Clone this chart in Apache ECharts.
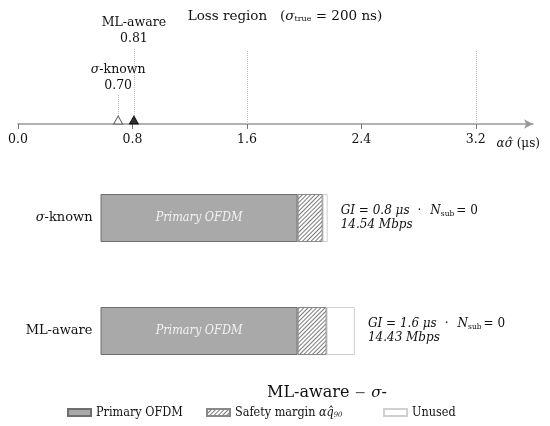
<!DOCTYPE html>
<html>
<head>
<meta charset="utf-8">
<script src="https://cdn.jsdelivr.net/npm/echarts@6/dist/echarts.min.js"></script>
<style>
  html, body { margin: 0; padding: 0; background: #fff; }
  #chart { width: 550px; height: 426px; }
</style>
</head>
<body>
<div id="chart"></div>
<script>
// 上半部分：损失区域轴上的两个标记
var marker_names = ['σ-known', 'ML-aware'];
var marker_values = [0.70, 0.81];
var marker_heights = [0.28, 0.73];   // 虚线顶端（y 轴 0..1）
var ref_lines = [1.6, 3.2];

// 下半部分：每个方案的符号组成（μs）
var schemes = ['σ-known', 'ML-aware'];
var primary_ofdm = [5.5, 5.5];
var safety_margin = [0.70, 0.81];
var unused_gi = [0.14, 0.79];
var gi_values = ['0.8', '1.6'];
var n_sub = [0, 0];
var rates = ['14.54', '14.43'];

var SERIF = 'DejaVu Serif';
var COND = '"DejaVu Serif Condensed", "DejaVu Serif"';
var chart = echarts.init(document.getElementById('chart'));

function sigmaLabel(name) {
    return name.indexOf('σ') === 0 ? '{i|σ}' + name.slice(1) : name;
}

// 斜线填充
var hatch = {
    symbol: 'rect',
    symbolSize: 1,
    color: '#7a7a7a',
    backgroundColor: '#fff',
    dashArrayX: [1, 0],
    dashArrayY: [1, 2],
    rotation: -Math.PI / 4
};

var option = {
    animation: false,
    backgroundColor: '#fff',
    textStyle: { fontFamily: SERIF, color: '#111' },
    title: {
        text: 'Loss region   ({i|σ}{sub|true}{n| = 200 ns)}',
        left: 280,
        textAlign: 'center',
        top: 4,
        textStyle: {
            fontFamily: SERIF, fontSize: 13.5, fontWeight: 'normal', color: '#111',
            rich: {
                i: { fontFamily: SERIF, fontStyle: 'italic', fontSize: 13.5 },
                sub: { fontFamily: SERIF, fontSize: 8, verticalAlign: 'bottom', padding: [6, 0, 0, 0] },
                n: { fontFamily: SERIF, fontSize: 13.5 }
            }
        }
    },
    grid: [
        { left: 18, right: 17, top: 20, height: 104 },
        { left: 100.5, width: 430, top: 161.5, height: 226 }
    ],
    xAxis: [
        {
            gridIndex: 0,
            type: 'value',
            min: 0,
            max: 3.6,
            interval: 0.8,
            name: '{i|ασ̂} (μs)',
            nameLocation: 'end',
            nameGap: 7,
            nameTextStyle: {
                align: 'right', verticalAlign: 'top', padding: [14, 0, 0, 0],
                fontFamily: SERIF, fontSize: 12, color: '#111',
                rich: { i: { fontFamily: SERIF, fontStyle: 'italic', fontSize: 12 } }
            },
            axisLine: {
                show: true,
                symbol: ['none', 'arrow'],
                symbolSize: [7, 9],
                lineStyle: { color: '#999', width: 1.5 }
            },
            axisTick: { show: true, length: 5, lineStyle: { color: '#777' } },
            axisLabel: {
                fontFamily: SERIF, fontSize: 12.5, color: '#111', margin: 9,
                showMaxLabel: false,
                formatter: function (v) { return v.toFixed(1); }
            },
            splitLine: { show: false }
        },
        {
            gridIndex: 1,
            type: 'value',
            min: 0,
            max: 12,
            show: false
        }
    ],
    yAxis: [
        { gridIndex: 0, type: 'value', min: 0, max: 1, show: false },
        {
            gridIndex: 1,
            type: 'category',
            inverse: true,
            data: schemes,
            axisLine: { show: false },
            axisTick: { show: false },
            axisLabel: {
                margin: 8, fontFamily: SERIF, fontSize: 13, color: '#111',
                formatter: sigmaLabel,
                rich: { i: { fontFamily: SERIF, fontStyle: 'italic', fontSize: 13 } }
            }
        }
    ],
    legend: [
        { data: ['Primary OFDM'], left: 67 },
        { data: ['Safety margin'], left: 206 },
        { data: ['Unused'], left: 383 }
    ].map(function (l) {
        l.top = 406;
        l.padding = 0;
        l.itemWidth = 23;
        l.itemHeight = 7;
        l.itemGap = 6;
        l.icon = 'rect';
        l.selectedMode = false;
        l.textStyle = {
            fontFamily: COND, fontSize: 12.5, color: '#111',
            rich: {
                i: { fontFamily: COND, fontStyle: 'italic', fontSize: 12.5 },
                sub: { fontFamily: COND, fontStyle: 'italic', fontSize: 7.5, verticalAlign: 'bottom', padding: [5, 0, 0, 0] }
            }
        };
        l.formatter = function (name) {
            return name === 'Safety margin' ? 'Safety margin {i|αq̂}{sub|90}' : name;
        };
        return l;
    }),
    graphic: [
        {
            type: 'text',
            x: 327,
            y: 385,
            style: {
                text: 'ML-aware {m|−} {i|σ}-',
                textAlign: 'center',
                fontFamily: SERIF,
                fontSize: 16,
                fill: '#111',
                rich: {
                    m: { fontFamily: SERIF, fontSize: 14, fill: '#555' },
                    i: { fontFamily: SERIF, fontStyle: 'italic', fontSize: 15, fill: '#111' }
                }
            }
        }
    ],
    series: []
};

// 参考虚线 1.6 / 3.2
option.series.push({
    type: 'line',
    xAxisIndex: 0,
    yAxisIndex: 0,
    data: [],
    silent: true,
    markLine: {
        symbol: 'none',
        silent: true,
        label: { show: false },
        lineStyle: { color: '#bbb', type: 'dotted', width: 1 },
        data: ref_lines.map(function (v) {
            return [{ coord: [v, 0] }, { coord: [v, 0.71] }];
        })
    }
});

// 标记：虚线 + 文字 + 三角
marker_names.forEach(function (name, i) {
    option.series.push({
        type: 'scatter',
        xAxisIndex: 0,
        yAxisIndex: 0,
        symbol: 'triangle',
        symbolSize: [9, 8],
        symbolOffset: [0, -4],
        itemStyle: i === 0
            ? { color: '#fff', borderColor: '#444', borderWidth: 1 }
            : { color: '#000', borderColor: '#000', borderWidth: 1 },
        z: 5,
        data: [[marker_values[i], 0]],
        markLine: {
            symbol: 'none',
            silent: true,
            lineStyle: { color: '#bbb', type: 'dotted', width: 1 },
            label: {
                show: true,
                position: 'end',
                distance: 1,
                fontFamily: SERIF,
                fontSize: 12.5,
                color: '#111',
                lineHeight: 16,
                align: 'center',
                formatter: sigmaLabel(name) + '\n' + marker_values[i].toFixed(2),
                rich: { i: { fontFamily: SERIF, fontStyle: 'italic', fontSize: 12.5, lineHeight: 16 } }
            },
            data: [[{ coord: [marker_values[i], 0] }, { coord: [marker_values[i], marker_heights[i]] }]]
        }
    });
});

// 堆叠条形
option.series.push({
    name: 'Primary OFDM',
    type: 'bar',
    xAxisIndex: 1,
    yAxisIndex: 1,
    stack: 'sym',
    barWidth: 48,
    itemStyle: { color: '#a9a9a9', borderColor: '#6e6e6e', borderWidth: 1 },
    label: {
        show: true,
        position: 'inside',
        formatter: 'Primary OFDM',
        fontFamily: COND,
        fontStyle: 'italic',
        fontSize: 12.5,
        color: '#f2f2f2'
    },
    data: primary_ofdm
});
option.series.push({
    name: 'Safety margin',
    type: 'bar',
    xAxisIndex: 1,
    yAxisIndex: 1,
    stack: 'sym',
    itemStyle: {
        color: '#ffffff',
        borderColor: '#888',
        borderWidth: 1,
        decal: hatch
    },
    data: safety_margin
});
option.series.push({
    name: 'Unused',
    type: 'bar',
    xAxisIndex: 1,
    yAxisIndex: 1,
    stack: 'sym',
    itemStyle: { color: '#fff', borderColor: '#d0d0d0', borderWidth: 1 },
    label: {
        show: true,
        position: 'right',
        distance: 13,
        fontFamily: SERIF,
        fontSize: 12,
        color: '#111',
        align: 'left',
        formatter: function (p) {
            var i = p.dataIndex;
            return '{it|GI = ' + gi_values[i] + ' μs}{d|·}{it|N}{sub|sub}{n|= ' + n_sub[i] + '}\n' +
                '{it|' + rates[i] + ' Mbps}';
        },
        rich: {
            it: { fontFamily: SERIF, fontStyle: 'italic', fontSize: 12, lineHeight: 14 },
            n: { fontFamily: SERIF, fontSize: 12, lineHeight: 14 },
            d: { fontFamily: SERIF, fontSize: 12, lineHeight: 14, padding: [0, 9, 0, 8] },
            sub: { fontFamily: SERIF, fontSize: 7.5, verticalAlign: 'bottom', padding: [5, 2, 0, 0], lineHeight: 14 }
        }
    },
    data: unused_gi
});

chart.setOption(option);
</script>
</body>
</html>
